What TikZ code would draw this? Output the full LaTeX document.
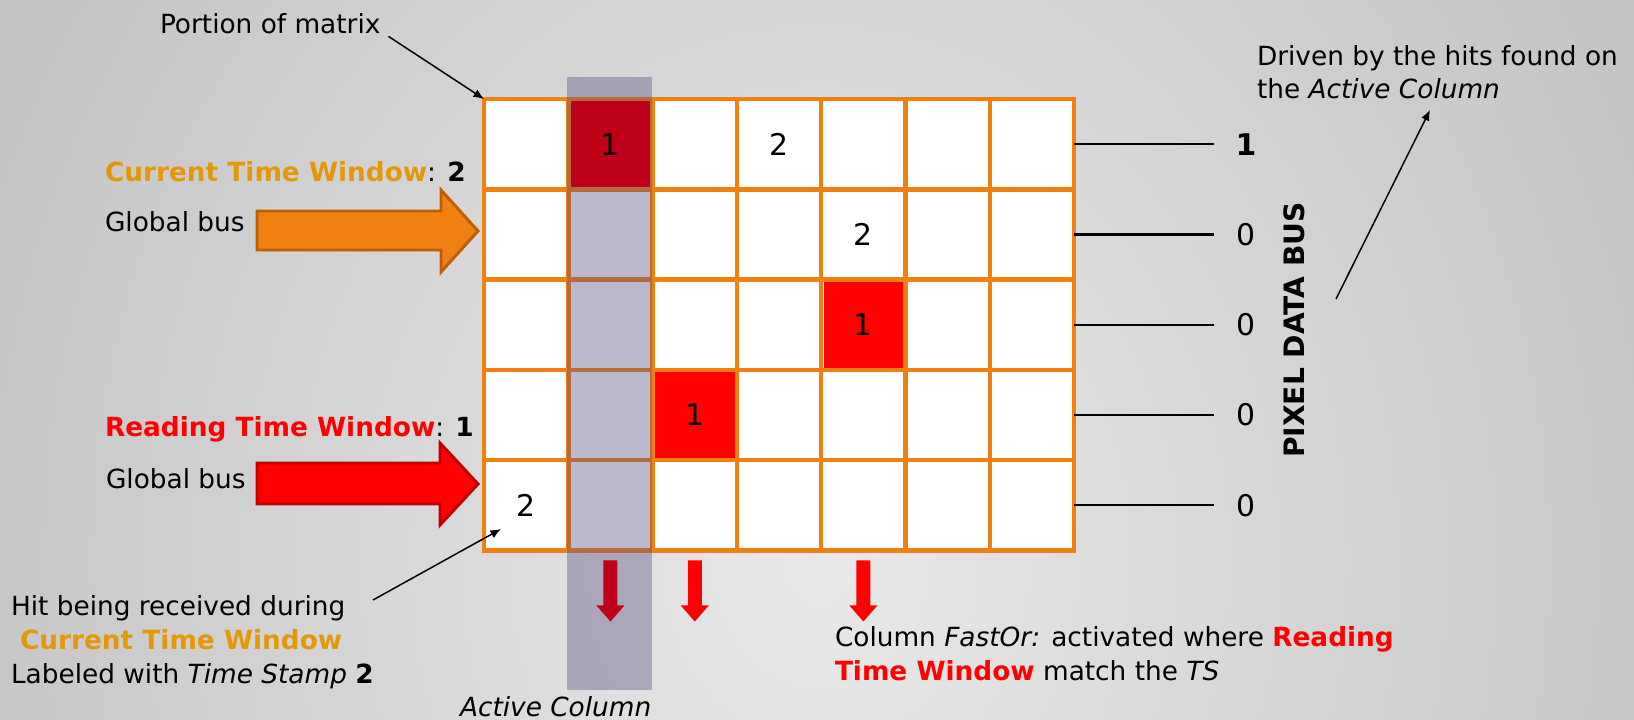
\documentclass[tikz,border=0pt]{standalone}
\usepackage{fontspec}
\setmainfont{DejaVu Sans}[BoldFont={DejaVu Sans Bold},ItalicFont={DejaVu Sans Oblique},BoldItalicFont={DejaVu Sans Bold Oblique}]
\usetikzlibrary{arrows.meta,calc}

\definecolor{gridorange}{RGB}{240,128,16}
\definecolor{windowgold}{RGB}{228,152,8}
\definecolor{readred}{RGB}{255,0,0}
\definecolor{activered}{RGB}{190,0,24}
\definecolor{orangeedge}{RGB}{188,96,8}
\definecolor{rededge}{RGB}{192,0,0}
\definecolor{bandtint}{RGB}{92,80,132}
\definecolor{bginner}{RGB}{233,233,233}
\definecolor{bgouter}{RGB}{160,160,160}

\begin{document}
\begin{tikzpicture}[x=0.02cm,y=-0.02cm,
  txt/.style={inner sep=0pt, outer sep=0pt, anchor=base west, font=\fontsize{15pt}{19pt}\selectfont},
  cell/.style={draw=gridorange, fill=white, line width=2.55pt, minimum width=1.686cm,
    minimum height=1.806cm, inner sep=0pt, outer sep=0pt},
  digit/.style={inner sep=0pt, font=\fontsize{17pt}{20pt}\selectfont},
  pointer/.style={draw=black, line width=0.85pt, -{Latex[length=6pt,width=5pt]}},
  busline/.style={draw=black, line width=1.3pt},
  bigarrow/.style={line width=1.7pt, line join=miter},
  pics/fastor/.style={code={
    \fill[#1] (-7,10) -- (7,10) -- (7,55) -- (14,55) -- (0,71) -- (-14,55) -- (-7,55) -- cycle;}},
]
\useasboundingbox (0,0) rectangle (1634,720);

% soft grey backdrop
\begin{scope}
  \clip (0,0) rectangle (1634,720);
  \shade[inner color=bginner, outer color=bgouter] (820,560) ellipse [x radius=36cm, y radius=42cm];
\end{scope}

% pixel matrix
\foreach \r in {1,...,5}
  \foreach \c in {1,...,7}
    \node[cell] (c-\r-\c) at ({441.85+84.3*\c},{53.85+90.3*\r}) {};

% hits matching the reading window
\foreach \r/\c in {3/5,4/3}
  \fill[readred] ($(c-\r-\c.north west)+(2.3,2.3)$) rectangle ($(c-\r-\c.south east)+(-2.3,-2.3)$);

% time stamps of the hits
\node[digit] (n-1-4) at (c-1-4) {2};
\node[digit] (n-2-5) at (c-2-5) {2};
\node[digit] (n-3-5) at (c-3-5) {1};
\node[digit] (n-4-3) at (c-4-3) {1};
\node[digit] (n-5-1) at (c-5-1) {2};

% active column highlight
\fill[bandtint, fill opacity=0.4] ($(c-1-2.north west)+(-1.5,-22)$) rectangle ($(c-5-2.south east)+(-0.5,140)$);
\node[fill=activered, minimum width=1.594cm, minimum height=1.714cm, inner sep=0pt,
  font=\fontsize{17pt}{20pt}\selectfont] (hit) at (c-1-2) {1};

% column FastOr outputs
\pic at (c-5-2.south) {fastor=activered};
\pic at (c-5-3.south) {fastor=readred};
\pic at (c-5-5.south) {fastor=readred};

% global buses
\draw[bigarrow, fill=gridorange, draw=orangeedge] (257,211) -- (441,211) -- (441,190) -- (478,231)
  -- (441,272) -- (441,250) -- (257,250) -- cycle;
\draw[bigarrow, fill=readred, draw=rededge] (257,463) -- (440,463) -- (440,443) -- (478,484)
  -- (440,525) -- (440,504) -- (257,504) -- cycle;

% labels
\node[txt] (portion) at (160,33) {Portion of matrix};
\node[txt] (cur) at (105,181) {{\color{windowgold}\bfseries Current Time Window}: \textbf{2}};
\node[txt] (gbc) at (105,231) {Global bus};
\node[txt] (rd) at (105,436) {{\color{readred}\bfseries Reading Time Window}: \textbf{1}};
\node[txt] (gbr) at (106,488) {Global bus};
\node[txt] (hit1) at (11,615) {Hit being received during};
\node[txt] (hit2) at (20,649) {\color{windowgold}\bfseries Current Time Window};
\node[txt] (hit3) at (11,683) {Labeled with \textit{Time Stamp} \textbf{2}};
\node[txt] (active) at (460,716) {\textit{Active Column}};
\node[txt] (fast1) at (835,646) {Column \textit{FastOr:} activated where {\color{readred}\bfseries Reading}};
\node[txt] (fast2) at (835,680) {{\color{readred}\bfseries Time Window} match the \textit{TS}};
\node[txt] (drv1) at (1257,65) {Driven by the hits found on};
\node[txt] (drv2) at (1257,98) {the \textit{Active Column}};

% pixel data bus
\coordinate (busend) at (1214,0);
\foreach \r/\v in {1/{\bfseries 1},2/0,3/0,4/0,5/0} {
  \draw[busline] (c-\r-7.east) -- (c-\r-7.east -| busend);
  \node[digit] (bus-\r) at ($(c-\r-7.east -| busend)+(32,0)$) {\v};
}
\node[rotate=90, inner sep=0pt, font=\fontsize{16pt}{19pt}\selectfont\bfseries] (pdb) at (1294,330) {PIXEL DATA BUS};

% pointers
\draw[pointer] ([shift={(8,3)}]portion.south east) -- (c-1-1.north west);
\coordinate (hitfrom) at (373,600);
\coordinate (hitto) at (501,529);
\draw[pointer] (hitfrom) -- (hitto);
\coordinate (drvfrom) at (1336,299);
\coordinate (drvto) at (1430,110);
\draw[pointer] (drvfrom) -- (drvto);
\end{tikzpicture}
\end{document}
